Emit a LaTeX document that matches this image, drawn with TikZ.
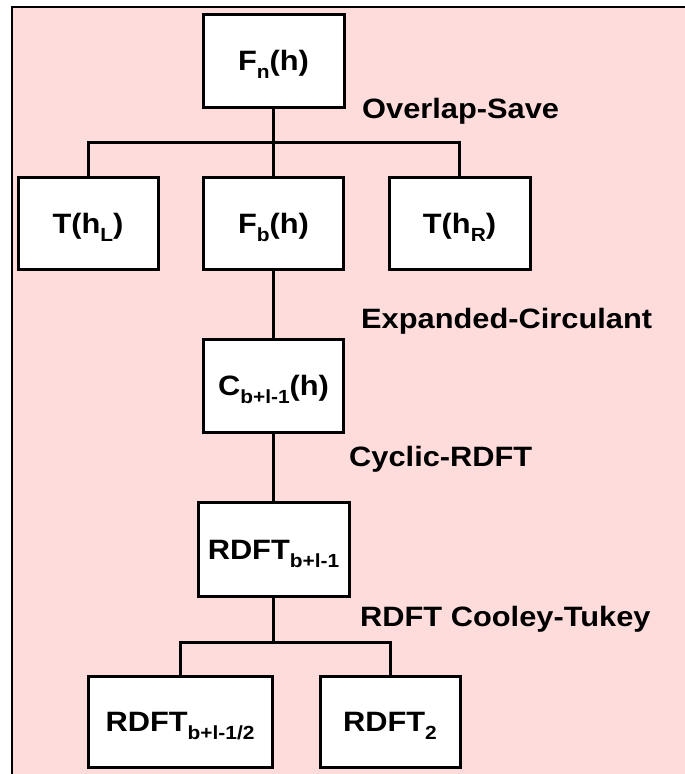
\documentclass[tikz,border=0pt]{standalone}
\usepackage{fontspec}
\setmainfont{Liberation Sans}
\usepackage{graphicx}
\definecolor{bgpink}{HTML}{FFDCDC}
\newcommand\lbl[1]{\scalebox{1.1}[1]{#1}}
\newcommand\sbs[1]{\raisebox{-8pt}[0pt][0pt]{\fontsize{19}{19}\selectfont #1}}
\begin{document}
\begin{tikzpicture}[x=1pt,y=-1pt,
  font=\fontsize{28}{32}\selectfont\bfseries,
  boxnode/.style={draw=black, fill=white, line width=3pt, inner sep=0pt,
    text height=20pt, text depth=0pt, align=center},
  link/.style={line width=3pt, line cap=rect},
  caption/.style={anchor=base west, inner sep=0pt}]
\useasboundingbox (0,0) rectangle (685,774);
\fill[white] (0,0) rectangle (685,774);
\fill[bgpink] (12,7) rectangle (685,774);
\draw[line width=1.5pt] (12,774) -- (12,7) -- (685,7);

\node[boxnode, minimum width=141pt, minimum height=93pt] (fn) at (273.5,60.5) {\lbl{F\sbs{n}(h)}};
\node[boxnode, minimum width=140pt, minimum height=92pt] (tl) at (88,223) {\lbl{T(h\sbs{L})}};
\node[boxnode, minimum width=140pt, minimum height=92pt] (fb) at (273.5,223) {\lbl{F\sbs{b}(h)}};
\node[boxnode, minimum width=141pt, minimum height=92pt] (tr) at (459.5,223) {\lbl{T(h\sbs{R})}};
\node[boxnode, minimum width=140pt, minimum height=93pt] (cb) at (273.5,385.5) {\lbl{C\sbs{b+l-1}(h)}};
\node[boxnode, minimum width=151pt, minimum height=94pt] (rd) at (273.5,549) {\lbl{RDFT\sbs{b+l-1}}};
\node[boxnode, minimum width=184pt, minimum height=91pt] (rl) at (180,721.5) {\lbl{RDFT\sbs{b+l-1/2}}};
\node[boxnode, minimum width=140pt, minimum height=91pt] (r2) at (390,721.5) {\lbl{RDFT\sbs{2}}};

\coordinate (j1) at (273.5,142);
\coordinate (j2) at (273.5,642);
\draw[link] (fn.south) -- (fb.north);
\draw[link] (tl.north) |- (j1) -| (tr.north);
\draw[link] (fb.south) -- (cb.north);
\draw[link] (cb.south) -- (rd.north);
\draw[link] (rd.south) -- (j2);
\draw[link] (rl.north) |- (j2) -| (r2.north);

\node[caption] (c1) at (362,118) {\lbl{Overlap-Save}};
\node[caption] (c2) at (361,328) {\lbl{Expanded-Circulant}};
\node[caption] (c3) at (349,466) {\lbl{Cyclic-RDFT}};
\node[caption] (c4) at (360,626) {\lbl{RDFT Cooley-Tukey}};
\end{tikzpicture}
\end{document}
